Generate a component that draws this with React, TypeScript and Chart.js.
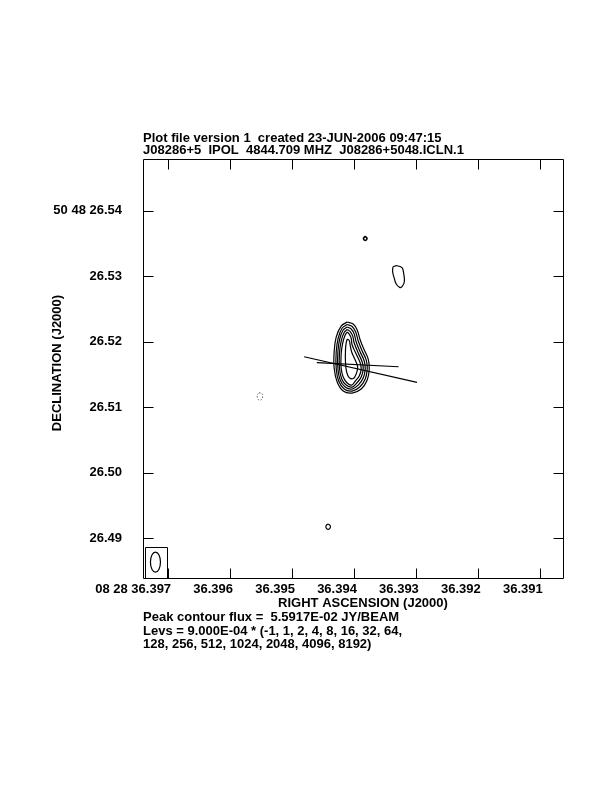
import { useEffect, useRef } from "react";
import { Chart, registerables } from "chart.js";

Chart.register(...registerables);

// ---- axis data ----
const xTicks = [36.391, 36.392, 36.393, 36.394, 36.395, 36.396, 36.397];
const yTicks = [26.49, 26.5, 26.51, 26.52, 26.53, 26.54];
const xMin = 36.390608;
const xMax = 36.397405;
const yMin = 26.483786;
const yMax = 26.547893;

const headerLines = [
  "Plot file version 1  created 23-JUN-2006 09:47:15",
  "J08286+5  IPOL  4844.709 MHZ  J08286+5048.ICLN.1",
];
const footerLines = [
  "Peak contour flux =  5.5917E-02 JY/BEAM",
  "Levs = 9.000E-04 * (-1, 1, 2, 4, 8, 16, 32, 64,",
  "128, 256, 512, 1024, 2048, 4096, 8192)",
];
const xTitle = "RIGHT ASCENSION (J2000)";
const yTitle = "DECLINATION (J2000)";

// ---- contours (RA seconds, Dec arcsec) ----
const level1: [number, number][] = [
  [36.394108, 26.523008], [36.394011, 26.522702], [36.393947, 26.521786], [36.393898, 26.52026],
  [36.393833, 26.518733], [36.393769, 26.517359], [36.393752, 26.515832], [36.393785, 26.514153],
  [36.393882, 26.512779], [36.394028, 26.512168], [36.394173, 26.512473], [36.39427, 26.513847],
  [36.394319, 26.515985], [36.394319, 26.518427], [36.394286, 26.520718], [36.394206, 26.522397],
];
const level2: [number, number][] = [
  [36.394108, 26.522626], [36.394028, 26.522321], [36.393971, 26.521481], [36.39393, 26.520107],
  [36.393866, 26.51858], [36.393801, 26.517206], [36.393785, 26.515832], [36.393817, 26.514305],
  [36.393906, 26.513084], [36.394028, 26.512473], [36.394157, 26.512779], [36.394246, 26.514],
  [36.394286, 26.515985], [36.394286, 26.518427], [36.394254, 26.520565], [36.394189, 26.522092],
];
const level4: [number, number][] = [
  [36.394108, 26.522244], [36.394044, 26.521939], [36.393995, 26.521176], [36.393963, 26.519954],
  [36.393898, 26.518427], [36.393833, 26.517053], [36.393817, 26.515832], [36.39385, 26.514458],
  [36.39393, 26.513389], [36.394028, 26.512779], [36.394141, 26.513084], [36.394222, 26.514153],
  [36.394259, 26.515985], [36.394259, 26.518427], [36.39423, 26.520412], [36.394173, 26.521786],
];
const level8: [number, number][] = [
  [36.394108, 26.521863], [36.39406, 26.521557], [36.394019, 26.52087], [36.393995, 26.519802],
  [36.39393, 26.518275], [36.393866, 26.516901], [36.39385, 26.515832], [36.393882, 26.514611],
  [36.393955, 26.513695], [36.394028, 26.513084], [36.394125, 26.513389], [36.394197, 26.514305],
  [36.394233, 26.515985], [36.394233, 26.518275], [36.394206, 26.520107], [36.394157, 26.521405],
];
const level16: [number, number][] = [
  [36.394108, 26.521481], [36.394076, 26.521176], [36.394044, 26.520565], [36.394028, 26.519496],
  [36.393963, 26.518122], [36.393898, 26.516748], [36.393882, 26.515832], [36.393914, 26.514763],
  [36.393979, 26.514], [36.394036, 26.513389], [36.394108, 26.513695], [36.394173, 26.514611],
  [36.394206, 26.515985], [36.394206, 26.518122], [36.394181, 26.519802], [36.394141, 26.521023],
];
const level32: [number, number][] = [
  [36.394108, 26.520412], [36.394076, 26.520183], [36.39406, 26.519496], [36.394036, 26.518427],
  [36.393979, 26.517206], [36.393939, 26.516137], [36.393963, 26.515069], [36.394011, 26.514382],
  [36.394076, 26.514534], [36.394117, 26.515374], [36.394136, 26.516901], [36.394136, 26.518733],
  [36.394125, 26.519802],
];
const northDot: [number, number][] = [
  [36.393817, 26.536092], [36.393788, 26.535786], [36.393817, 26.53545], [36.393846, 26.535786],
];
const northEastBlob: [number, number][] = [
  [36.393369, 26.53145], [36.393304, 26.531603], [36.393223, 26.531298], [36.393197, 26.530443],
  [36.393186, 26.52916], [36.393223, 26.528397], [36.393262, 26.528305], [36.393316, 26.528809],
  [36.393348, 26.529679], [36.393375, 26.530687],
];
const southBlob: [number, number][] = [
  [36.394416, 26.492168], [36.394384, 26.491939], [36.394384, 26.491557], [36.394416, 26.491359],
  [36.394448, 26.491557], [36.394448, 26.491939],
];
const negativeBlob: [number, number][] = [
  [36.395532, 26.512214], [36.395484, 26.512092], [36.395472, 26.51171], [36.395492, 26.511176],
  [36.395532, 26.511099], [36.395557, 26.511405], [36.39556, 26.511863],
];
const lineA: [number, number][] = [[36.394804, 26.51771], [36.392981, 26.513802]];
const lineB: [number, number][] = [[36.394599, 26.516824], [36.393278, 26.516183]];

const beamCenter: [number, number] = [36.397204, 26.486366];
const beamHalfRA = 0.0000809;
const beamHalfDec = 0.001527;

const FONT = "'Liberation Sans', Arial, Helvetica, sans-serif";

function closed(pts: [number, number][]) {
  const d = pts.map(([x, y]) => ({ x, y }));
  d.push({ x: pts[0][0], y: pts[0][1] });
  return d;
}
function open(pts: [number, number][]) {
  return pts.map(([x, y]) => ({ x, y }));
}

const overlay = {
  id: "overlay",
  afterDraw(chart: any) {
    const ctx: CanvasRenderingContext2D = chart.ctx;
    const { left, right, top, bottom } = chart.chartArea;
    const xs = chart.scales.x;
    const ys = chart.scales.y;
    ctx.save();
    ctx.strokeStyle = "#000";
    ctx.lineWidth = 1;
    const L = Math.round(left) + 0.5;
    const R = Math.round(right) - 0.5;
    const T = Math.round(top) + 0.5;
    const B = Math.round(bottom) - 0.5;
    ctx.beginPath();
    ctx.rect(L, T, R - L, B - T);
    ctx.stroke();
    const tl = 10;
    ctx.beginPath();
    for (const v of xTicks) {
      const p = Math.round(xs.getPixelForValue(v)) + 0.5;
      ctx.moveTo(p, B);
      ctx.lineTo(p, B - tl);
      ctx.moveTo(p, T);
      ctx.lineTo(p, T + tl);
    }
    for (const v of yTicks) {
      const p = Math.round(ys.getPixelForValue(v)) + 0.5;
      ctx.moveTo(L, p);
      ctx.lineTo(L + tl, p);
      ctx.moveTo(R, p);
      ctx.lineTo(R - tl, p);
    }
    ctx.stroke();

    // beam
    const cx = xs.getPixelForValue(beamCenter[0]);
    const cy = ys.getPixelForValue(beamCenter[1]);
    const rx = Math.abs(xs.getPixelForValue(beamCenter[0] + beamHalfRA) - cx);
    const ry = Math.abs(ys.getPixelForValue(beamCenter[1] + beamHalfDec) - cy);
    ctx.lineWidth = 1.2;
    ctx.beginPath();
    ctx.ellipse(cx, cy, rx, ry, 0, 0, Math.PI * 2);
    ctx.stroke();
    ctx.lineWidth = 1;
    ctx.beginPath();
    const bl = Math.round(cx - 10) + 0.5;
    const br = Math.round(cx + 12) + 0.5;
    const bt = Math.round(cy - 15.5) + 0.5;
    const bb = Math.round(cy + 15.5) + 0.5;
    ctx.rect(bl, bt, br - bl, bb - bt);
    ctx.stroke();

    // texts
    ctx.fillStyle = "#000";
    ctx.font = `bold 13px ${FONT}`;
    ctx.textAlign = "left";
    ctx.textBaseline = "alphabetic";
    ctx.fillText(headerLines[0], 143, 141.5);
    ctx.fillText(headerLines[1], 143, 154);
    footerLines.forEach((t, i) => ctx.fillText(t, 143, 621 + i * 13.5));
    ctx.textAlign = "center";
    ctx.fillText(xTitle, 363, 607);
    ctx.save();
    ctx.translate(60.5, 363);
    ctx.rotate(-Math.PI / 2);
    ctx.fillText(yTitle, 0, 0);
    ctx.restore();
    ctx.restore();
  },
};

export default function App() {
  const ref = useRef<HTMLCanvasElement>(null);
  useEffect(() => {
    const contourStyle = {
      borderColor: "#000",
      borderWidth: 1.2,
      pointRadius: 0,
      tension: 0.4,
      fill: false,
      showLine: true,
    };
    const chart = new Chart(ref.current!, {
      type: "scatter",
      data: {
        datasets: [
          { ...contourStyle, data: closed(level1) },
          { ...contourStyle, data: closed(level2) },
          { ...contourStyle, data: closed(level4) },
          { ...contourStyle, data: closed(level8) },
          { ...contourStyle, data: closed(level16) },
          { ...contourStyle, data: closed(level32) },
          { ...contourStyle, borderWidth: 1.6, data: closed(northDot) },
          { ...contourStyle, data: closed(northEastBlob) },
          { ...contourStyle, data: closed(southBlob) },
          { ...contourStyle, borderWidth: 1, borderColor: "#666", borderDash: [1.5, 1.5], data: closed(negativeBlob) },
          { ...contourStyle, tension: 0, data: open(lineA) },
          { ...contourStyle, tension: 0, data: open(lineB) },
        ],
      },
      options: {
        responsive: false,
        devicePixelRatio: 1,
        animation: false,
        events: [],
        layout: { padding: { left: 0, top: 159, right: 48, bottom: 173 } },
        plugins: { legend: { display: false }, tooltip: { enabled: false }, title: { display: false } },
        scales: {
          x: {
            type: "linear",
            reverse: true,
            min: xMin,
            max: xMax,
            grid: { display: false },
            border: { display: false },
            afterFit: (s: any) => {
              s.height = 40;
            },
            afterBuildTicks: (s: any) => {
              s.ticks = xTicks.map((v) => ({ value: v }));
            },
            ticks: {
              autoSkip: false,
              maxRotation: 0,
              minRotation: 0,
              align: "end",
              labelOffset: 3,
              padding: -5,
              color: "#000",
              font: { family: FONT, size: 13, weight: "bold" },
              callback: (v: any) => {
                const n = Number(v);
                return Math.abs(n - 36.397) < 1e-9 ? "08 28 36.397" : n.toFixed(3);
              },
            },
          },
          y: {
            type: "linear",
            min: yMin,
            max: yMax,
            grid: { display: false },
            border: { display: false },
            afterFit: (s: any) => {
              s.width = 143;
            },
            afterBuildTicks: (s: any) => {
              s.ticks = yTicks.map((v) => ({ value: v }));
            },
            ticks: {
              autoSkip: false,
              padding: 13,
              color: "#000",
              font: { family: FONT, size: 13, weight: "bold" },
              callback: (v: any) => {
                const n = Number(v);
                return Math.abs(n - 26.54) < 1e-9 ? "50 48 26.54" : n.toFixed(2);
              },
            },
          },
        },
      } as any,
      plugins: [overlay],
    });
    return () => chart.destroy();
  }, []);
  return (
    <div style={{ position: "absolute", left: 0, top: 0, width: 612, height: 792, background: "#fff" }}>
      <canvas ref={ref} width={612} height={792} style={{ width: 612, height: 792, display: "block" }} />
    </div>
  );
}
